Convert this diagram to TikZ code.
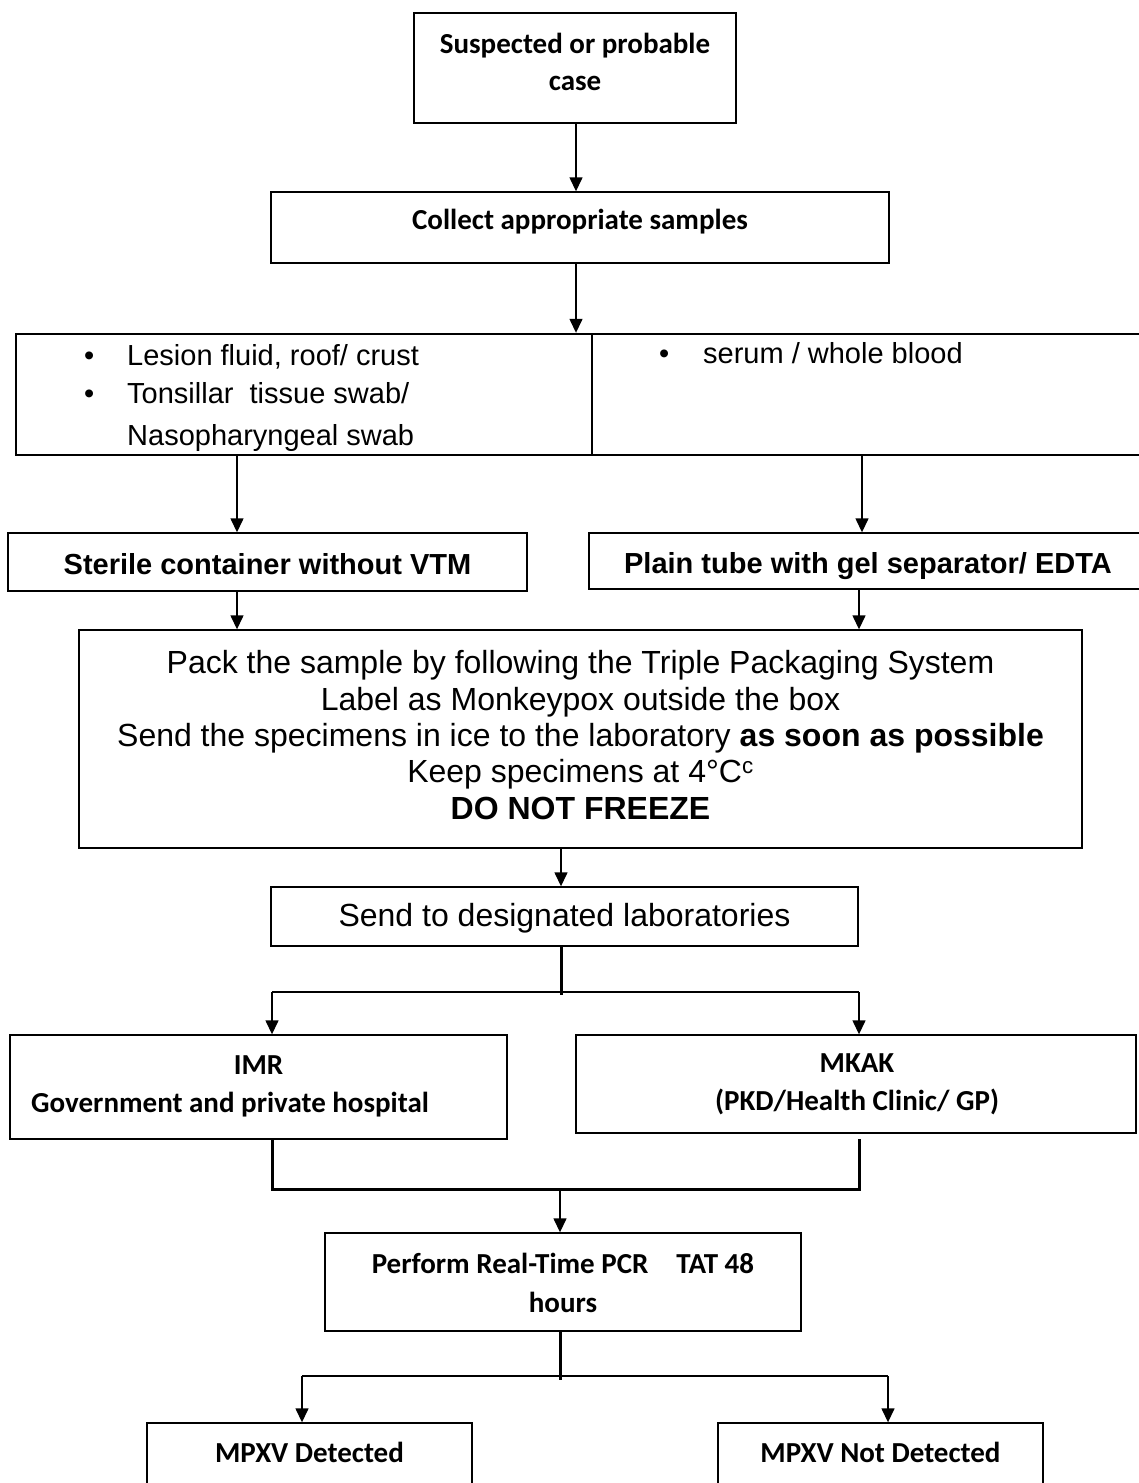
\documentclass[tikz,border=0pt]{standalone}
\usepackage{fontspec}
\setmainfont{Liberation Sans}
\newfontfamily\calfont{Carlito}
\usetikzlibrary{arrows.meta}

\begin{document}
\begin{tikzpicture}[x=1pt,y=-1pt,
  box/.style={draw=black, line width=1.4pt, rectangle, inner sep=0pt},
  tbox/.style={draw=black, line width=2.4pt, rectangle, inner sep=0pt},
  arr/.style={line width=1.4pt, -{Triangle[width=13pt,length=14pt]}},
  ln/.style={line width=2pt},
  heavy/.style={line width=3pt},
  cb/.style={font=\calfont\bfseries\fontsize{29}{38}\selectfont, align=center, inner sep=0pt},
  ab/.style={font=\bfseries\fontsize{29}{35}\selectfont, inner sep=0pt, anchor=base},
  ar/.style={font=\fontsize{32}{36.3}\selectfont, align=center, inner sep=0pt},
  bul/.style={font=\fontsize{29}{38}\selectfont, anchor=base west, inner sep=0pt},
]
\useasboundingbox (0,0) rectangle (1139,1483);
\clip (0,0) rectangle (1139,1483);

% x positions of the connectors
\coordinate (x576) at (576,0);
\coordinate (x237) at (237,0);
\coordinate (x862) at (862,0);
\coordinate (x859) at (859,0);
\coordinate (x561) at (561,0);
\coordinate (x272) at (272,0);
\coordinate (x560) at (560,0);
\coordinate (x302) at (302,0);
\coordinate (x888) at (888,0);

% boxes
\node[box, minimum width=322pt, minimum height=110pt] (sus) at (575,68) {};
\node[cb] at (575,61.5) {Suspected or probable\\[-1pt]case};

\node[box, minimum width=618pt, minimum height=71pt] (col) at (580,227.5) {};
\node[cb] at (580,222) {Collect appropriate samples};

\node[tbox, minimum width=576pt, minimum height=121pt] (tabL) at (304,394.5) {};
\node[tbox, minimum width=578pt, minimum height=121pt] (tabR) at (881,394.5) {};
\node[bul] at (84,365) {\textbullet};
\node[bul] at (127,365) {Lesion fluid, roof/ crust};
\node[bul] at (84,403) {\textbullet};
\node[bul] at (127,403) {Tonsillar\ \ tissue swab/};
\node[bul] at (127,445) {Nasopharyngeal swab};
\node[bul] at (659,363) {\textbullet};
\node[bul] at (703,363) {serum / whole blood};

\node[box, minimum width=519pt, minimum height=58pt] (ster) at (267.5,562) {};
\node[ab] at (267.5,574) {Sterile container without VTM};
\node[box, minimum width=558pt, minimum height=56pt] (plain) at (868,561) {};
\node[ab] at (868,573) {Plain tube with gel separator/ EDTA};

\node[box, minimum width=1003pt, minimum height=218pt] (pack) at (580.5,739) {};
\node[ar] at (580.5,735) {Pack the sample by following the Triple Packaging System\\
Label as Monkeypox outside the box\\
Send the specimens in ice to the laboratory \textbf{as soon as possible}\\
Keep specimens at 4°C\textsuperscript{c}\\
\textbf{DO NOT FREEZE}};

\node[box, minimum width=587pt, minimum height=59pt] (send) at (564.5,916.5) {};
\node[ar] at (564.5,918) {Send to designated laboratories};

\node[box, minimum width=497pt, minimum height=104pt] (imr) at (258.5,1087) {};
\node[cb, anchor=base] at (258.5,1074) {IMR};
\node[cb, anchor=base west] at (31,1112) {Government and private hospital};

\node[box, minimum width=560pt, minimum height=98pt] (mkak) at (856,1084) {};
\node[cb] at (857,1084) {MKAK\\(PKD/Health Clinic/ GP)};

\node[box, minimum width=476pt, minimum height=98pt] (pcr) at (563,1282) {};
\node[cb] at (563,1282.5) {Perform Real-Time PCR\hspace{28pt}TAT 48\\[1pt]hours};

\node[box, minimum width=325pt, minimum height=100pt] (mpd) at (309.5,1473) {};
\node[cb, anchor=base] at (309.5,1462) {MPXV Detected};
\node[box, minimum width=325pt, minimum height=100pt] (mpn) at (880.5,1473) {};
\node[cb, anchor=base] at (880.5,1462) {MPXV Not Detected};

% junction points
\coordinate (j1) at (561,992);
\coordinate (j2) at (560,1189);
\coordinate (j3) at (560,1376);

% connectors
\draw[arr] (x576 |- sus.south) -- (x576 |- col.north);
\draw[arr] (x576 |- col.south) -- (x576 |- tabL.north);
\draw[arr] (x237 |- tabL.south) -- (x237 |- ster.north);
\draw[arr] (x862 |- tabR.south) -- (x862 |- plain.north);
\draw[arr] (x237 |- ster.south) -- (x237 |- pack.north);
\draw[arr] (x859 |- plain.south) -- (x859 |- pack.north);
\draw[arr] (x561 |- pack.south) -- (x561 |- send.north);

\draw[heavy] (x561 |- send.south) -- ([yshift=-3pt]j1);
\draw[ln] (x272 |- j1) -- (x859 |- j1);
\draw[arr] (x272 |- j1) -- (x272 |- imr.north);
\draw[arr] (x859 |- j1) -- (x859 |- mkak.north);

\draw[heavy, line join=miter] (x272 |- imr.south) -- (x272 |- j2) -- (x859 |- j2) -- ([yshift=-5pt]x859 |- mkak.south);
\draw[arr] (j2) -- (x560 |- pcr.north);

\draw[heavy] (x560 |- pcr.south) -- ([yshift=-4pt]j3);
\draw[ln] (x302 |- j3) -- (x888 |- j3);
\draw[arr] (x302 |- j3) -- (x302 |- mpd.north);
\draw[arr] (x888 |- j3) -- (x888 |- mpn.north);
\end{tikzpicture}
\end{document}
